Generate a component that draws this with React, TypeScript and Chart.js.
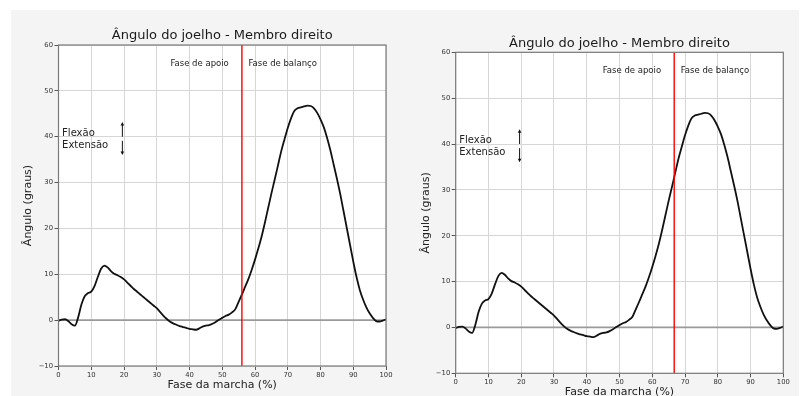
import React, { useEffect, useRef } from "react";
import { Chart, registerables } from "chart.js";

Chart.register(...registerables);
Chart.defaults.font.family = "'DejaVu Sans', sans-serif";

// Gait cycle percent (x) and knee angle in degrees (y)
const gaitPercent: number[] = [
  0, 1, 2, 3, 4, 5, 6, 7, 8, 9, 10, 11, 12, 13, 14, 15, 16, 17, 18, 19, 20,
  21, 22, 23, 24, 25, 26, 27, 28, 29, 30, 31, 32, 33, 34, 35, 36, 37, 38, 39, 40,
  41, 42, 43, 44, 45, 46, 47, 48, 49, 50, 51, 52, 53, 54, 55, 56, 57, 58, 59, 60,
  61, 62, 63, 64, 65, 66, 67, 68, 69, 70, 71, 72, 73, 74, 75, 76, 77, 78, 79, 80,
  81, 82, 83, 84, 85, 86, 87, 88, 89, 90, 91, 92, 93, 94, 95, 96, 97, 98, 99, 100,
];

const kneeAngle: number[] = [
  -0.1, 0.1, 0.2, -0.2, -0.9, -1.2, 0.6, 3.4, 5.2, 5.9, 6.2,
  7.4, 9.4, 11.2, 11.9, 11.5, 10.7, 10.1, 9.8, 9.4, 8.9,
  8.2, 7.5, 6.8, 6.2, 5.6, 5.0, 4.4, 3.8, 3.2, 2.6,
  1.8, 1.0, 0.3, -0.3, -0.7, -1.0, -1.3, -1.5, -1.7, -1.9,
  -2.0, -2.1, -1.8, -1.4, -1.2, -1.1, -0.8, -0.4, 0.1, 0.5,
  0.9, 1.2, 1.7, 2.4, 4.0, 5.6, 7.3, 9.0, 11.0, 13.2,
  15.6, 18.2, 21.2, 24.4, 27.6, 30.6, 33.7, 36.8, 39.4, 41.9,
  44.0, 45.6, 46.2, 46.4, 46.6, 46.8, 46.7, 46.2, 45.2, 43.8,
  42.1, 39.8, 37.1, 34.0, 30.9, 27.6, 23.9, 20.2, 16.5, 12.8,
  9.4, 6.6, 4.5, 2.8, 1.5, 0.5, -0.2, -0.3, -0.1, 0.2,
];

const phaseChangeLeft = 56;
const phaseChangeRight = 66.7;

const xTicks: number[] = [0, 10, 20, 30, 40, 50, 60, 70, 80, 90, 100];
const yTicks: number[] = [-10, 0, 10, 20, 30, 40, 50, 60];

const titleText = "Ângulo do joelho - Membro direito";
const xLabelText = "Fase da marcha (%)";
const yLabelText = "Ângulo (graus)";
const stanceText = "Fase de apoio";
const swingText = "Fase de balanço";
const flexText = "Flexão";
const extText = "Extensão";

type Area = { left: number; top: number; right: number; bottom: number };

function fmt(v: number): string {
  return v < 0 ? "\u2212" + Math.abs(v) : String(v);
}

function GaitChart(props: { redX: number; w: number; h: number; area: Area }) {
  const ref = useRef<HTMLCanvasElement | null>(null);
  useEffect(() => {
    const { redX, w, h, area } = props;
    const canvas = ref.current!;
    const deco = {
      id: "deco",
      beforeDraw(chart: any) {
        const ctx = chart.ctx;
        const ca = chart.chartArea;
        ctx.save();
        ctx.fillStyle = "#f4f4f4";
        ctx.fillRect(0, 0, chart.width, chart.height);
        ctx.fillStyle = "#ffffff";
        ctx.fillRect(ca.left, ca.top, ca.right - ca.left, ca.bottom - ca.top);
        ctx.restore();
      },
      beforeDatasetsDraw(chart: any) {
        const ctx = chart.ctx;
        const ca = chart.chartArea;
        const ys = chart.scales.y;
        const y0 = ys.getPixelForValue(0);
        ctx.save();
        ctx.strokeStyle = "#9a9a9a";
        ctx.lineWidth = 1.8;
        ctx.beginPath();
        ctx.moveTo(ca.left, y0);
        ctx.lineTo(ca.right, y0);
        ctx.stroke();
        ctx.restore();
      },
      afterDatasetsDraw(chart: any) {
        const ctx = chart.ctx;
        const ca = chart.chartArea;
        const xs = chart.scales.x;
        const rx = xs.getPixelForValue(redX);
        ctx.save();
        ctx.strokeStyle = "#ff0000";
        ctx.lineWidth = 1.4;
        ctx.beginPath();
        ctx.moveTo(rx, ca.top);
        ctx.lineTo(rx, ca.bottom);
        ctx.stroke();
        ctx.restore();
      },
      afterDraw(chart: any) {
        const ctx = chart.ctx;
        const ca = chart.chartArea;
        const xs = chart.scales.x;
        const ys = chart.scales.y;
        ctx.save();
        // spines
        ctx.strokeStyle = "#7a7a7a";
        ctx.lineWidth = 1.2;
        ctx.strokeRect(ca.left, ca.top, ca.right - ca.left, ca.bottom - ca.top);
        // title
        ctx.fillStyle = "#1a1a1a";
        ctx.font = "13px 'DejaVu Sans'";
        ctx.textAlign = "center";
        ctx.textBaseline = "middle";
        ctx.fillText(titleText, (ca.left + ca.right) / 2, ca.top - 9);
        // x label
        ctx.fillStyle = "#222";
        ctx.font = "11px 'DejaVu Sans'";
        ctx.fillText(xLabelText, (ca.left + ca.right) / 2, ca.bottom + 19);
        // y label
        ctx.save();
        ctx.translate(ca.left - 30, (ca.top + ca.bottom) / 2);
        ctx.rotate(-Math.PI / 2);
        ctx.fillText(yLabelText, 0, 0);
        ctx.restore();
        // phase texts
        ctx.font = "8.5px 'DejaVu Sans'";
        ctx.fillStyle = "#222";
        ctx.textAlign = "right";
        ctx.fillText(stanceText, xs.getPixelForValue(redX - 4), ys.getPixelForValue(56));
        ctx.textAlign = "left";
        ctx.fillText(swingText, xs.getPixelForValue(redX + 2), ys.getPixelForValue(56));
        // flexion / extension
        ctx.font = "10px 'DejaVu Sans'";
        ctx.fillText(flexText, xs.getPixelForValue(1.1), ys.getPixelForValue(40.8));
        ctx.fillText(extText, xs.getPixelForValue(1.1), ys.getPixelForValue(38.2));
        // arrows
        const ax = xs.getPixelForValue(19.5);
        const arrow = (fromY: number, toY: number) => {
          const p1 = ys.getPixelForValue(fromY);
          const p2 = ys.getPixelForValue(toY);
          const dir = p2 < p1 ? -1 : 1;
          ctx.strokeStyle = "#111";
          ctx.fillStyle = "#111";
          ctx.lineWidth = 1;
          ctx.beginPath();
          ctx.moveTo(ax, p1);
          ctx.lineTo(ax, p2 - dir * 2.5);
          ctx.stroke();
          ctx.beginPath();
          ctx.moveTo(ax, p2);
          ctx.lineTo(ax - 1.8, p2 - dir * 3.5);
          ctx.lineTo(ax + 1.8, p2 - dir * 3.5);
          ctx.closePath();
          ctx.fill();
        };
        arrow(40, 43.2);
        arrow(39.1, 36);
        ctx.restore();
      },
    };

    const chart = new Chart(canvas, {
      type: "line",
      data: {
        datasets: [
          {
            data: kneeAngle.map((y, i) => ({ x: gaitPercent[i], y })),
            borderColor: "#111111",
            borderWidth: 1.8,
            pointRadius: 0,
            cubicInterpolationMode: "monotone",
            fill: false,
          },
        ],
      },
      options: {
        responsive: false,
        animation: false,
        devicePixelRatio: 1,
        layout: {
          padding: { left: 0, top: area.top, right: w - area.right, bottom: 0 },
        },
        plugins: {
          legend: { display: false },
          title: { display: false },
          tooltip: { enabled: false },
        },
        scales: {
          x: {
            type: "linear",
            min: 0,
            max: 100,
            afterBuildTicks: (s: any) => {
              s.ticks = xTicks.map((v) => ({ value: v }));
            },
            afterFit: (s: any) => {
              s.height = h - area.bottom;
            },
            ticks: {
              font: { size: 6.8 },
              color: "#333",
              padding: 1,
              maxRotation: 0,
              autoSkip: false,
              callback: (v: any) => fmt(Number(v)),
            },
            grid: { color: "#d6d6d6", lineWidth: 1, tickLength: 4, tickColor: "#555" },
            border: { display: false },
          },
          y: {
            type: "linear",
            min: -10,
            max: 60,
            afterBuildTicks: (s: any) => {
              s.ticks = yTicks.map((v) => ({ value: v }));
            },
            afterFit: (s: any) => {
              s.width = area.left;
            },
            ticks: {
              font: { size: 6.8 },
              color: "#333",
              padding: 1.5,
              callback: (v: any) => fmt(Number(v)),
            },
            grid: { color: "#d6d6d6", lineWidth: 1, tickLength: 4, tickColor: "#555" },
            border: { display: false },
          },
        },
      },
      plugins: [deco],
    } as any);
    return () => chart.destroy();
  }, []);
  return (
    <canvas
      ref={ref}
      width={props.w}
      height={props.h}
      style={{ width: props.w, height: props.h, display: "block" }}
    />
  );
}

export default function App() {
  return (
    <div
      style={{
        position: "absolute",
        left: 0,
        top: 0,
        width: 803,
        height: 396,
        background: "#ffffff",
        overflow: "hidden",
      }}
    >
      <div
        style={{
          position: "absolute",
          left: 11,
          top: 10,
          width: 788,
          height: 386,
          background: "#f4f4f4",
        }}
      />
      <div style={{ position: "absolute", left: 11, top: 10 }}>
        <GaitChart
          redX={phaseChangeLeft}
          w={388}
          h={386}
          area={{ left: 47.5, top: 35, right: 375, bottom: 356 }}
        />
      </div>
      <div style={{ position: "absolute", left: 399, top: 10 }}>
        <GaitChart
          redX={phaseChangeRight}
          w={400}
          h={386}
          area={{ left: 56.7, top: 42.3, right: 384.3, bottom: 363.3 }}
        />
      </div>
    </div>
  );
}
